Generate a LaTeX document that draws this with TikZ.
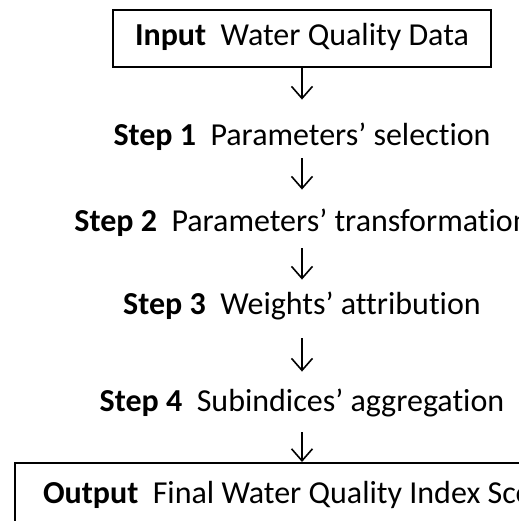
\documentclass[tikz,border=0pt]{standalone}
\usepackage{fontspec}
\setmainfont{Carlito}[Ligatures=NoCommon]
\usepackage{tikz}
\usetikzlibrary{arrows.meta,positioning,calc}
\definecolor{ink}{HTML}{000000}

\begin{document}
\begin{tikzpicture}[x=.5pt,y=.5pt,>={Straight Barb[length=6pt,width=10.5pt]},
  txt/.style={font=\fontsize{16}{19}\selectfont,text=ink,inner sep=0pt,text height=11.2pt,text depth=4pt},
  stepnode/.style={txt,anchor=base},
  boxnode/.style={txt,draw=ink,line width=1pt},
  flow/.style={->,draw=ink,line width=.8pt}]
\useasboundingbox (0,0) rectangle (519,521);
\clip (0,0) rectangle (519,521);
\node[boxnode,minimum width=189pt,minimum height=28.5pt] (input) at (302,482.5){\textbf{Input}\ \ Water Quality Data};
\node[stepnode] (s1) at (302,375){\textbf{Step 1}\ \ Parameters’ selection};
\node[stepnode] (s2) at (302,290){\textbf{Step 2}\ \ Parameters’ transformation};
\node[stepnode] (s3) at (302,206){\textbf{Step 3}\ \ Weights’ attribution};
\node[stepnode] (s4) at (302,110){\textbf{Step 4}\ \ Subindices’ aggregation};
\node[boxnode,anchor=north west,inner xsep=14pt,inner ysep=8.8pt] (output) at (14,59){\makebox[280pt][l]{\textbf{Output}\ \ Final Water Quality Index Score}};
\foreach \a/\b/\s/\e in {input/s1/0/11.8,s1/s2/2/9.3,s2/s3/4.5/6.3,s3/s4/7.5/8.3}
  \draw[flow,shorten <=\s pt,shorten >=\e pt] (\a) -- (\b);
\draw[flow,shorten <=6.5pt] (s4.south) -- (s4.south |- output.north);
\end{tikzpicture}
\end{document}
